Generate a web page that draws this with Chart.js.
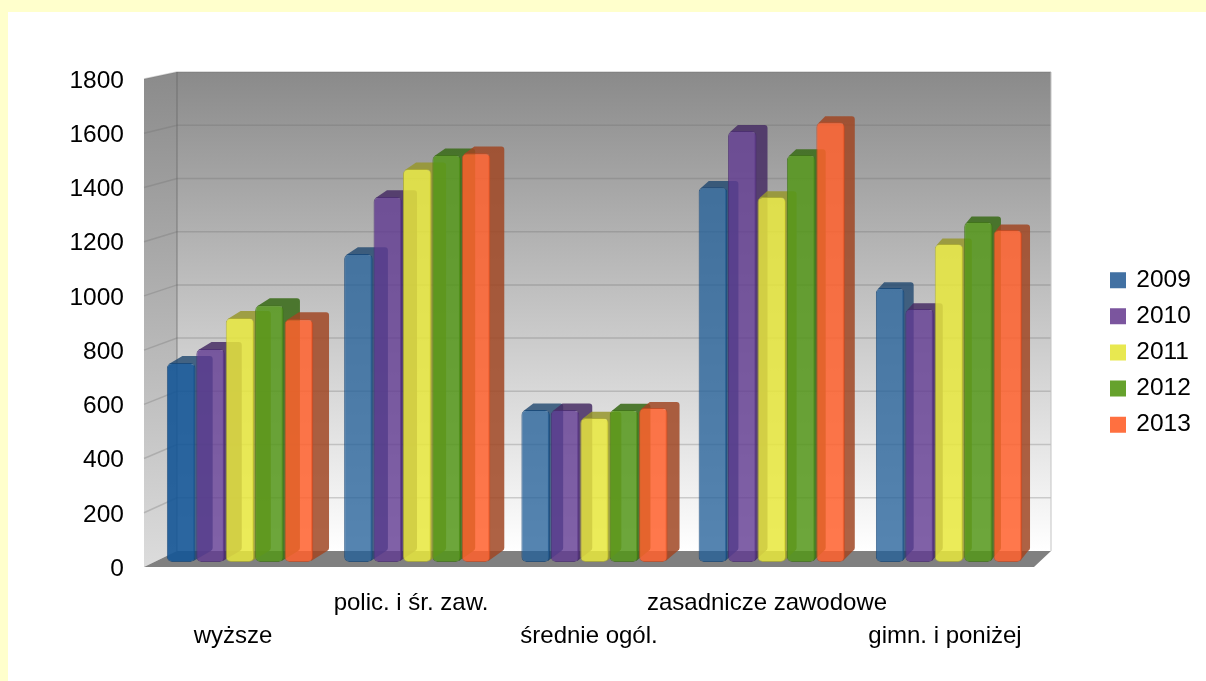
<!DOCTYPE html>
<html>
<head>
<meta charset="utf-8">
<style>
  html, body { margin: 0; padding: 0; background: #ffffcc; }
  #paper { position: absolute; left: 8px; top: 12px; width: 1198px; height: 669px; background: #fff; }
  #wykres { position: absolute; left: 0; top: 0; }
</style>
</head>
<body>
<div id="paper"></div>
<canvas id="wykres" width="1206" height="681"></canvas>
<script src="https://cdn.jsdelivr.net/npm/chart.js@4"></script>
<script>
const categories = ['wyższe', 'polic. i śr. zaw.', 'średnie ogól.', 'zasadnicze zawodowe', 'gimn. i poniżej'];
const years = ['2009', '2010', '2011', '2012', '2013'];
const v2009 = [738, 1143, 564, 1391, 1017];
const v2010 = [790, 1354, 564, 1599, 939];
const v2011 = [905, 1458, 534, 1354, 1180];
const v2012 = [953, 1510, 564, 1510, 1262];
const v2013 = [901, 1517, 571, 1632, 1232];
const values = [v2009, v2010, v2011, v2012, v2013];

const frontColors = ['rgba(34,95,152,.77)', 'rgba(96,58,145,.8)', 'rgba(232,232,60,.85)', 'rgba(84,150,25,.85)', 'rgba(255,96,45,.85)'];
const edgeColors = ['rgba(20,70,120,.8)', 'rgba(75,45,115,.8)', 'rgba(175,175,50,.8)', 'rgba(65,115,25,.8)', 'rgba(200,75,35,.8)'];
const sideColors = ['rgba(30,70,110,.8)', 'rgba(70,45,100,.85)', 'rgba(150,150,45,.85)', 'rgba(62,110,30,.9)', 'rgba(160,70,35,.85)'];
const legendColors = ['#4271a3', '#7b559e', '#e8e850', '#66a22d', '#ff7040'];
const firstBarColor = 'rgba(20,85,150,.9)';

const FONT = '"Liberation Sans", Arial, sans-serif';

// pseudo 3D room behind the bars
const room = {
  id: 'room',
  beforeDraw(chart) {
    const { ctx, chartArea: a, scales } = chart;
    const backY = y => a.bottom - 16 + (y - a.bottom) * 479 / 488;
    const bl = a.left + 33, br = a.right + 17;
    const top = backY(a.top), bot = backY(a.bottom);
    ctx.save();

    let g = ctx.createLinearGradient(0, top, 0, bot);
    g.addColorStop(0, '#8a8a8a');
    g.addColorStop(1, '#ffffff');
    ctx.fillStyle = g;
    ctx.fillRect(bl, top, br - bl, bot - top);

    g = ctx.createLinearGradient(0, a.top, 0, a.bottom);
    g.addColorStop(0, '#8c8c8c');
    g.addColorStop(1, '#dcdcdc');
    ctx.fillStyle = g;
    ctx.beginPath();
    ctx.moveTo(a.left, a.top);
    ctx.lineTo(bl, top);
    ctx.lineTo(bl, bot);
    ctx.lineTo(a.left, a.bottom);
    ctx.closePath();
    ctx.fill();

    ctx.fillStyle = '#808080';
    ctx.beginPath();
    ctx.moveTo(a.left, a.bottom);
    ctx.lineTo(bl, bot);
    ctx.lineTo(br, bot);
    ctx.lineTo(a.right, a.bottom);
    ctx.closePath();
    ctx.fill();

    ctx.strokeStyle = 'rgba(110,110,110,.3)';
    ctx.lineWidth = 1.5;
    scales.y.ticks.forEach(t => {
      const y = scales.y.getPixelForValue(t.value);
      if (t.value === 0) return;
      ctx.beginPath();
      ctx.moveTo(a.left, y);
      ctx.lineTo(bl, backY(y));
      ctx.lineTo(br, backY(y));
      ctx.stroke();
    });
    ctx.strokeStyle = 'rgba(100,100,100,.45)';
    ctx.beginPath();
    ctx.moveTo(bl, top);
    ctx.lineTo(bl, bot);
    ctx.stroke();
    ctx.strokeStyle = '#c4c4c4';
    ctx.lineWidth = 1;
    ctx.beginPath();
    ctx.moveTo(br, top);
    ctx.lineTo(br, bot);
    ctx.stroke();
    ctx.restore();
  },
  afterLayout(chart) {
    // legend sits outside the plot
    const l = chart.legend, p = l.options.labels.padding;
    l.left = 1112 - p;
    l.right = l.left + l.width;
    l.top = 268 - p;
    l.bottom = l.top + l.height;
  },
  // later series on top of the sides of earlier ones
  beforeDatasetsDraw(chart) {
    const ctx = chart.ctx;
    ctx.save();
    ctx.transform(177.25 / 178, 0, 0, 0.994, 7.98, 562 - 567 * 0.994);
    values.forEach((vals, i) => {
      const meta = chart.getDatasetMeta(i);
      meta.data.forEach(bar => {
        const x0 = bar.x - bar.width / 2, x1 = bar.x + bar.width / 2;
        const t = bar.y, b = bar.base;
        // depth gets smaller towards the right of the room
        const dx = 16 - (x1 - 305) * 8 / 709;
        const dy = 7 - (x1 - 305) * 1.5 / 709;
        ctx.fillStyle = sideColors[i];
        ctx.beginPath();
        ctx.moveTo(x0 + 2, t + 1);
        ctx.lineTo(x0 + dx * 0.9, t - dy);
        ctx.lineTo(x1 + dx - 3, t - dy);
        ctx.quadraticCurveTo(x1 + dx, t - dy, x1 + dx, t - dy + 3);
        ctx.lineTo(x1 + dx, b - 14);
        ctx.quadraticCurveTo(x1 + dx, b - 12, x1 + dx - 2, b - 11);
        ctx.lineTo(x1 - 2, b - 1);
        ctx.lineTo(x1 - 2, t + 1);
        ctx.closePath();
        ctx.fill();
      });
      meta.controller.draw();
    });
    ctx.restore();
    return false;
  }
};

new Chart(document.getElementById('wykres'), {
  type: 'bar',
  data: {
    labels: categories,
    datasets: years.map((y, i) => ({
      label: y,
      data: values[i],
      backgroundColor: c => (i === 0 && c.dataIndex === 0 ? firstBarColor : frontColors[i]),
      borderColor: edgeColors[i],
      borderWidth: 1,
      borderSkipped: false,
      borderRadius: 5,
      categoryPercentage: 0.83,
      barPercentage: 0.97
    }))
  },
  options: {
    responsive: false,
    animation: false,
    layout: { padding: { top: 79, right: 172, left: 0, bottom: 0 } },
    plugins: {
      tooltip: { enabled: false },
      legend: {
        position: 'chartArea',
        align: 'start',
        labels: {
          font: { family: FONT, size: 24.5 },
          color: '#000',
          boxWidth: 12,
          boxHeight: 12,
          padding: 11.6,
          generateLabels: chart => chart.data.datasets.map((d, i) => ({
            text: d.label,
            fillStyle: legendColors[i],
            strokeStyle: legendColors[i],
            lineWidth: 4,
            datasetIndex: i
          }))
        }
      }
    },
    scales: {
      x: {
        grid: { display: false, drawTicks: false },
        border: { display: false },
        afterFit: s => { s.height = 114; },
        ticks: {
          autoSkip: false,
          maxRotation: 0,
          minRotation: 0,
          padding: 20,
          color: '#000',
          font: { family: FONT, size: 24, lineHeight: 33 / 24 },
          callback(v, i) {
            const name = this.getLabelForValue(v);
            return i % 2 ? [name, ''] : ['', name];
          }
        }
      },
      y: {
        min: 0,
        max: 1800,
        grid: { display: false, drawTicks: false },
        border: { display: false },
        afterFit: s => { s.width = 144; },
        ticks: {
          stepSize: 200,
          padding: 20,
          labelOffset: 2,
          color: '#000',
          font: { family: FONT, size: 24.5 },
          callback: v => String(v)
        }
      }
    }
  },
  plugins: [room]
});
</script>
</body>
</html>
